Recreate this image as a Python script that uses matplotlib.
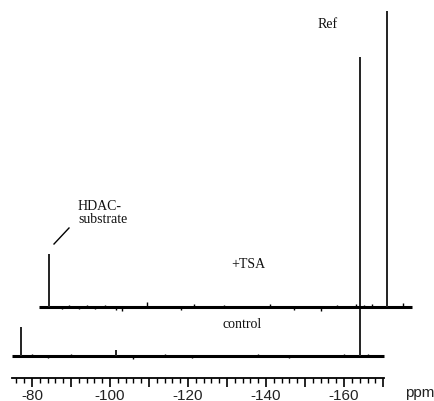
"""19F NMR stacked spectra: control vs +TSA (HDAC substrate and reference)."""

import matplotlib
matplotlib.use("Agg")
import matplotlib.pyplot as plt
from matplotlib.ticker import FixedLocator

# spectral window (ppm) covered by each trace
PPM_START = -74.8
PPM_END = -170.2

# control trace: peak shifts (ppm) and heights (a.u.)
control_ppm = [-77.2, -101.5, -164.0]
control_h = [29, 6, 299]
control_noise_ppm = [-80.0, -84.0, -90.0, -106.0, -114.0, -121.0, -138.0, -146.0, -160.0, -166.0]
control_noise_h = [2, -2, 2, -3, 2, -2, 2, -2, 2, 2]

# +TSA trace
tsa_ppm = [-77.2, -164.0]
tsa_h = [53, 296]
tsa_noise_ppm = [-80.5, -82.5, -85.0, -87.0, -89.0, -91.5, -94.5, -96.0, -102.5, -111.0, -114.5,
                 -122.0, -134.0, -140.0, -147.0, -151.0, -156.0, -158.0, -160.0, -168.0]
tsa_noise_h = [-2, 2, -2, 2, -2, 2, -3, -4, 5, -3, 3, 2, 3, -3, -4, 2, 3, 2, 3, 4]

xticks_major = [-80, -90, -100, -110, -120, -130, -140, -150, -160, -170]
xtick_labels = ["-80", "", "-100", "", "-120", "", "-140", "", "-160", ""]
xticks_minor = [v for v in range(-76, -171, -2) if v % 10 != 0]

# stacking offset for the upper trace (plot style)
STACK_DX = -7.1
STACK_DY = 49


def draw_trace(ax, ppm, h, noise_ppm, noise_h, dx=0.0, dy=0.0):
    ax.hlines(dy, PPM_START + dx, PPM_END + dx, color="black", lw=2.2)
    ax.vlines([p + dx for p in noise_ppm], dy, [dy + v for v in noise_h],
              color="black", lw=1.0)
    ax.vlines([p + dx for p in ppm], dy, [dy + v for v in h], color="#222222", lw=1.4)


plt.rcParams["axes.unicode_minus"] = False
fig = plt.figure(figsize=(4.35, 4.02), dpi=100)
ax = fig.add_axes([0, 0, 1, 1])
ax.set_xlim(-71.8, -183.3)
ax.set_ylim(-45, 357)

draw_trace(ax, control_ppm, control_h, control_noise_ppm, control_noise_h)
draw_trace(ax, tsa_ppm, tsa_h, tsa_noise_ppm, tsa_noise_h, STACK_DX, STACK_DY)

for s in ("top", "right", "left"):
    ax.spines[s].set_visible(False)
ax.spines["bottom"].set_position(("data", -22))
ax.spines["bottom"].set_bounds(PPM_START, PPM_END)
ax.spines["bottom"].set_linewidth(1.3)
ax.set_yticks([])
ax.xaxis.set_major_locator(FixedLocator(xticks_major))
ax.set_xticklabels(xtick_labels, fontsize=11, family="Liberation Sans", color="#222222")
ax.xaxis.set_minor_locator(FixedLocator(xticks_minor))
ax.tick_params(axis="x", which="major", length=6.5, width=1.2, pad=1.0)
ax.tick_params(axis="x", which="minor", length=3.5, width=1.0)
ax.patch.set_visible(False)

serif = dict(family="Liberation Serif", fontsize=10, color="#111111")
fig.text(420 / 435, 1 - 393 / 402, "ppm", ha="center", va="center",
         family="Liberation Sans", fontsize=11, color="#222222")
fig.text(328 / 435, 1 - 24 / 402, "Ref", ha="center", va="center", **serif)
fig.text(78 / 435, 1 - 200 / 402, "HDAC-\nsubstrate", ha="left", va="top",
         linespacing=1.0, **serif)
fig.text(248 / 435, 1 - 265 / 402, "+TSA", ha="center", va="center", **serif)
fig.text(242 / 435, 1 - 325 / 402, "control", ha="center", va="center", **serif)
fig.add_artist(plt.Line2D([54 / 435, 69 / 435], [1 - 245 / 402, 1 - 229 / 402],
                          color="black", lw=1.0))

fig.savefig("out.png", dpi=100)
